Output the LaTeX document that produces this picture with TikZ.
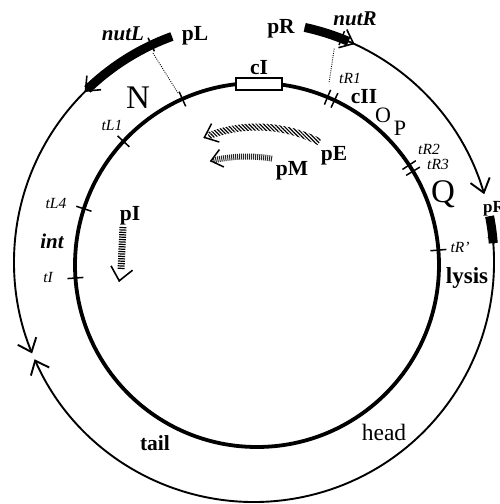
\documentclass[tikz,border=0pt]{standalone}
\usepackage{fontspec}
\setmainfont{Liberation Serif}
\usetikzlibrary{arrows.meta,patterns.meta}
\begin{document}
\begin{tikzpicture}[x=1pt,y=1pt,
  lab/.style={font=\fontsize{21.5}{21.5}\selectfont\bfseries, anchor=base, inner sep=0pt},
  labr/.style={font=\fontsize{23.5}{23.5}\selectfont, anchor=base, inner sep=0pt},
  labit/.style={font=\fontsize{21}{21}\selectfont\bfseries\itshape, anchor=base, inner sep=0pt},
  tsm/.style={font=\fontsize{15.5}{15.5}\selectfont\itshape, anchor=base, inner sep=0pt},
  biglab/.style={font=\fontsize{33}{33}\selectfont, anchor=base, inner sep=0pt},
  midlab/.style={font=\fontsize{22}{22}\selectfont, anchor=base, inner sep=0pt},
  innerline/.style={line width=3.8pt},
  outerline/.style={line width=1.9pt},
  band/.style={line width=9pt},
  barb/.style={line width=1.6pt, -{Straight Barb[length=12pt,width=20pt]}},
  tickmark/.style={line width=1.5pt},
  dotline/.style={line width=0.9pt, dash pattern=on 0.9pt off 1.3pt},
]
\useasboundingbox (-257,-239) rectangle (243,265);
\fill[white] (-257,-239) rectangle (243,265);

% ---------- inner circle ----------
\coordinate (C) at (0,0);
\draw[innerline] (C) circle[radius=182];
\foreach \a in {114.2,137.2,162,184.1,4.7,64.8,67.2,31,33.3}
  \draw[tickmark] (\a:174) -- (\a:190);
\node[draw, fill=white, line width=1.2pt, minimum width=46pt, minimum height=12pt, inner sep=0pt] (cIbox) at (2,181) {};

% ---------- outer arcs ----------
\begin{scope}[shift={(-3,3)}]
  % left: pL -> cut
  \draw[outerline, -{Straight Barb[length=12pt,width=20pt]}] (110:240) arc[start angle=110,end angle=202.4,radius=240];
  \draw[band] (110:240) arc[start angle=110,end angle=134,radius=240];
  \draw[barb] (134.5:240) arc[start angle=134.5,end angle=134.9,radius=240];
  \draw[tickmark] (115.3:233) -- (115.3:248);
  \coordinate (nutLdot) at (115.8:232);
  % right: pR -> pR'
  \draw[outerline, -{Straight Barb[length=13pt,width=20pt]}] (77.8:240) arc[start angle=77.8,end angle=16.4,radius=240];
  \draw[band] (77.8:240) arc[start angle=77.8,end angle=66.8,radius=240];
  \draw[barb] (65.6:240) arc[start angle=65.6,end angle=65.2,radius=240];
  \draw[tickmark] (68.6:233) -- (68.6:248);
  \coordinate (nutRdot) at (69.4:228);
  % lower: pR' -> cut
  \draw[outerline, -{Straight Barb[length=12pt,width=20pt]}] (11:240) arc[start angle=11,end angle=-156.1,radius=240];
  \draw[band] (11:240) arc[start angle=11,end angle=4.5,radius=240];
\end{scope}
\coordinate (hookA) at (231,28);
\coordinate (hookB) at (238,22);
\draw[tickmark] (hookA) -- (hookB);

% ---------- dotted connectors ----------
\coordinate (Ndot) at (-79,172);
\coordinate (tRdot) at (72,182);
\draw[dotline] (nutLdot) -- (Ndot);
\draw[dotline] (nutRdot) -- (tRdot);

% ---------- transcripts ----------
\fill[pattern={Lines[angle=-45,distance=2.6pt,line width=1.2pt]}]
  (63:134.5) arc[start angle=63,end angle=110.6,radius=134.5]
  -- (110.6:141.5) arc[start angle=110.6,end angle=63,radius=141.5] -- cycle;
\draw[line width=1.5pt, -{Straight Barb[length=12pt,width=20pt]}] (112.5:138) arc[start angle=112.5,end angle=112.9,radius=138];
\begin{scope}[shift={(-10,-40)}]
  \draw[line width=6pt, dash pattern=on 1pt off 1pt, black!85] (80.3:148.5) arc[start angle=80.3,end angle=103.3,radius=148.5];
  \draw[line width=1.5pt, -{Straight Barb[length=11pt,width=18pt]}] (104.1:148.5) arc[start angle=104.1,end angle=104.5,radius=148.5];
\end{scope}
\draw[line width=7pt, dash pattern=on 1.2pt off 1.2pt] (-134,38) -- (-136,-5);
\draw[line width=1.6pt, -{Straight Barb[length=13pt,width=22pt]}] (-137.9,-16.5) -- (-138,-17);

% ---------- labels ----------
\node[labit] (nutL) at (-134,224) {nutL};
\node[lab] (pL) at (-62,225) {pL};
\node[lab] (pR) at (24,232) {pR};
\node[labit] (nutR) at (98,239) {nutR};
\node[lab] (cI) at (2,191) {cI};
\node[biglab] (N) at (-119,157) {N};
\node[tsm] (tL1) at (-145,135) {tL1};
\node[tsm] (tR1) at (93,182) {tR1};
\node[lab] (cII) at (107,162) {cII};
\node[midlab] (O) at (126,143) {O};
\node[midlab] (P) at (143,130) {P};
\node[tsm] (tR2) at (172,111) {tR2};
\node[tsm] (tR3) at (181,96) {tR3};
\node[lab] (pE) at (77,105) {pE};
\node[lab] (pM) at (35,90) {pM};
\node[biglab] (Q) at (186,63) {Q};
\node[font=\fontsize{17}{17}\selectfont\bfseries, anchor=base west, inner sep=0pt] (pRp) at (226,53) {pR'};
\node[tsm] (tRp) at (203,13) {tR'};
\node[lab, font=\fontsize{23}{23}\selectfont\bfseries] (lysis) at (210,-18) {lysis};
\node[tsm] (tL4) at (-201,57) {tL4};
\node[labit] (int) at (-205,17) {int};
\node[tsm] (tI) at (-209,-17) {tI};
\node[lab] (pI) at (-127,45) {pI};
\node[lab] (tail) at (-102,-185) {tail};
\node[labr] (head) at (127,-175) {head};
\end{tikzpicture}
\end{document}
